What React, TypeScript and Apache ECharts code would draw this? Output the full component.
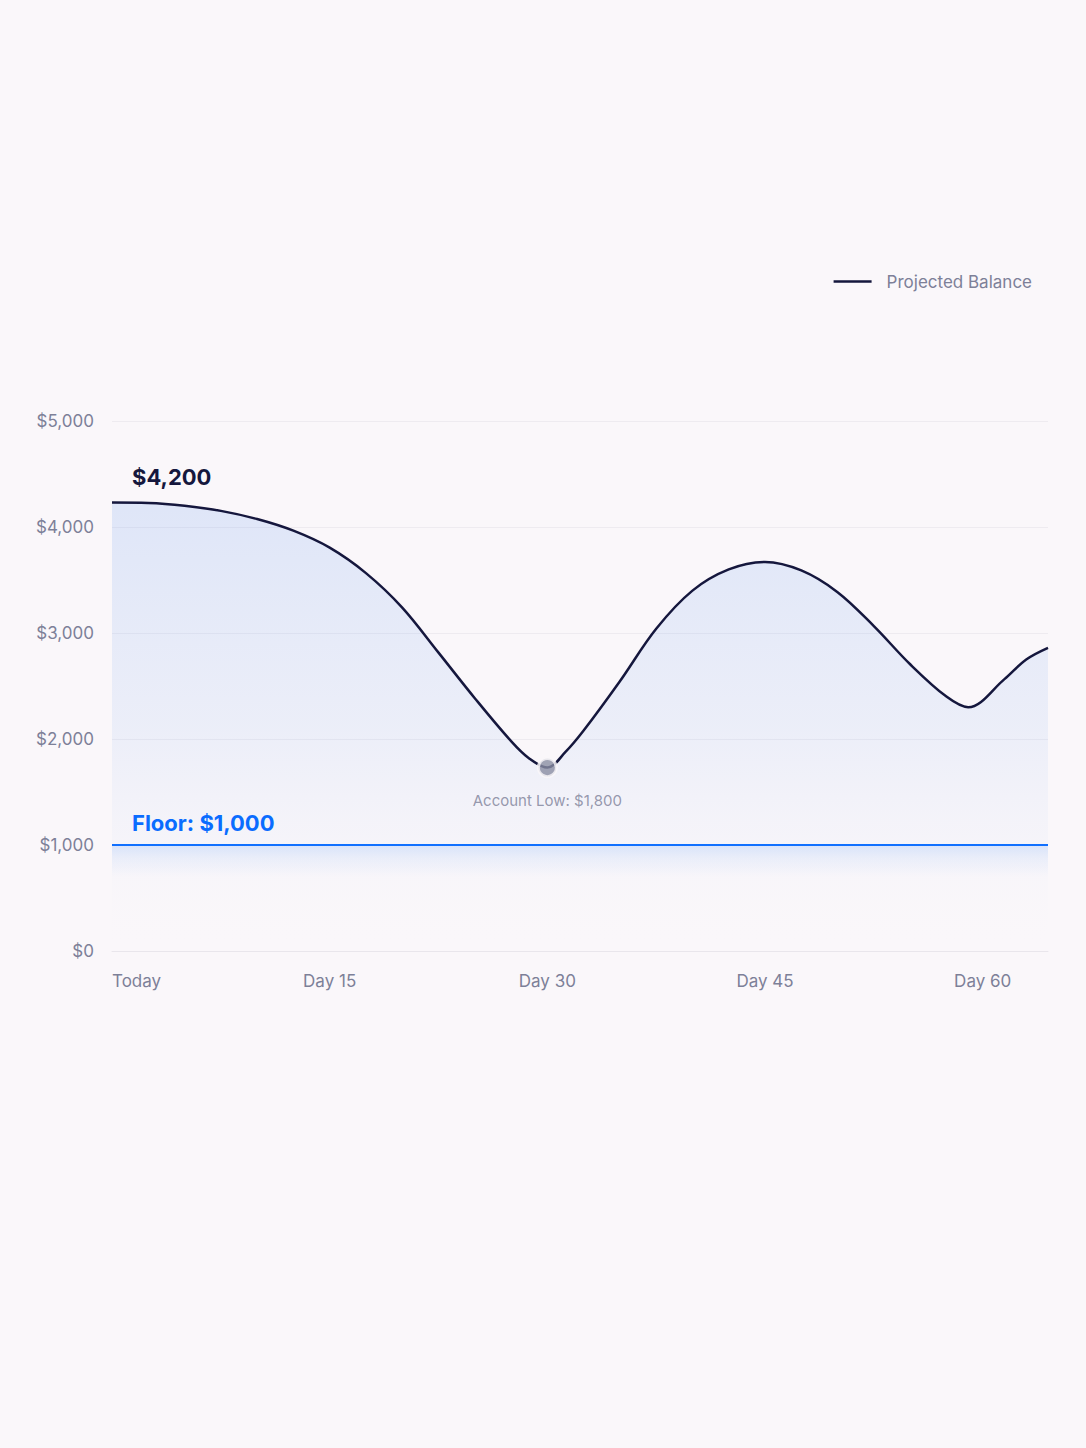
import React, { useEffect, useRef } from "react";
import * as echarts from "echarts";

const days = [
  0, 2.5, 5, 7.5, 10, 12.5, 15, 17.5, 20, 22.5, 25, 27.5, 28.75, 30,
  31.25, 32.5, 35, 37.5, 40, 42.5, 45,
  47.5, 50, 52.5, 55, 57.5, 59,
  61.5, 63, 64.5,
];
const balance = [
  4230, 4226, 4200, 4152, 4075, 3965, 3805, 3565, 3240, 2815, 2385, 1980, 1816, 1730,
  1878, 2080, 2545, 3040, 3400, 3600, 3670,
  3590, 3385, 3065, 2705, 2400, 2300,
  2565, 2750, 2860,
];
const xTicks = [0, 15, 30, 45, 60];
const xTickLabels = ["Today", "Day 15", "Day 30", "Day 45", "Day 60"];
const floorDays = [0, 64.5];
const floorValue = 1000;
const lowPoint = [30, 1730];
const startLabel = "$4,200";
const floorLabel = "Floor: $1,000";
const lowLabel = "Account Low: $1,800";
const seriesName = "Projected Balance";

const FONT = "Inter, 'Noto Sans', sans-serif";
const BG = "#FAF7FA";
const MUTED = "#7D8098";
const NAVY = "#15173D";
const BLUE = "#0A6CFF";

export default function App() {
  const ref = useRef<HTMLDivElement>(null);
  useEffect(() => {
    if (!ref.current) return;
    const chart = echarts.init(ref.current, undefined, { renderer: "svg" });
    const lineData = days.map((d, i) => [d, balance[i]]);
    const floorData = floorDays.map((d) => [d, floorValue]);
    chart.setOption({
      animation: false,
      backgroundColor: BG,
      textStyle: { fontFamily: FONT },
      grid: { left: 112, right: 38, top: 421, bottom: 497, containLabel: false },
      legend: {
        data: [seriesName],
        right: 49,
        top: 268,
        icon: "rect",
        itemWidth: 38,
        itemHeight: 2.5,
        textStyle: { color: MUTED, fontSize: 17, fontFamily: FONT, padding: [0, 0, 0, 10] },
      },
      xAxis: {
        type: "value",
        min: 0,
        max: 64.5,
        interval: 15,
        axisLine: { show: true, lineStyle: { color: "#E9E6EC", width: 1 } },
        axisTick: { show: false },
        splitLine: { show: false },
        axisLabel: {
          color: MUTED,
          fontSize: 17,
          fontFamily: FONT,
          margin: 21,
          alignMinLabel: "left",
          showMaxLabel: false,
          formatter: (v: number) => {
            const i = xTicks.indexOf(v);
            return i >= 0 ? xTickLabels[i] : "";
          },
        },
      },
      yAxis: {
        type: "value",
        min: 0,
        max: 5000,
        interval: 1000,
        axisLine: { show: false },
        axisTick: { show: false },
        splitLine: { lineStyle: { color: "#EEEBF0", width: 1 } },
        axisLabel: {
          color: MUTED,
          fontSize: 17,
          fontFamily: FONT,
          margin: 18,
          formatter: (v: number) => "$" + v.toLocaleString("en-US"),
        },
      },
      series: [
        {
          name: seriesName,
          type: "line",
          smooth: 0.35,
          symbol: "none",
          data: lineData,
          lineStyle: { color: NAVY, width: 2.5 },
          itemStyle: { color: NAVY },
          areaStyle: {
            color: new echarts.graphic.LinearGradient(0, 0, 0, 1, [
              { offset: 0, color: "rgba(120,165,240,0.30)" },
              { offset: 0.5, color: "rgba(135,175,238,0.18)" },
              { offset: 0.8, color: "rgba(160,190,238,0.05)" },
              { offset: 1, color: "rgba(250,247,250,0)" },
            ]),
          },
          z: 3,
        },
        {
          name: "floor",
          type: "line",
          symbol: "none",
          silent: true,
          data: floorData,
          lineStyle: { color: BLUE, width: 2 },
          itemStyle: { color: BLUE },
          areaStyle: {
            origin: "start",
            color: new echarts.graphic.LinearGradient(0, 0, 0, 1, [
              { offset: 0, color: "rgba(10,108,255,0.18)" },
              { offset: 0.12, color: "rgba(10,108,255,0.08)" },
              { offset: 0.3, color: "rgba(10,108,255,0)" },
              { offset: 1, color: "rgba(10,108,255,0)" },
            ]),
          },
          z: 2,
        },
        {
          name: "low",
          type: "scatter",
          data: [lowPoint],
          symbolSize: 18,
          itemStyle: { color: "#8A8DA3", borderColor: BG, borderWidth: 3 },
          label: {
            show: true,
            position: "bottom",
            distance: 15,
            formatter: lowLabel,
            color: MUTED,
            fontSize: 15,
            fontFamily: FONT,
          },
          z: 5,
        },
      ],
    });
    const p0 = chart.convertToPixel({ gridIndex: 0 }, [days[0], balance[0]]) as number[];
    const pf = chart.convertToPixel({ gridIndex: 0 }, [floorDays[0], floorValue]) as number[];
    chart.setOption({
      graphic: [
        {
          type: "text",
          x: p0[0] + 20,
          y: p0[1] - 26,
          style: {
            text: startLabel,
            fill: NAVY,
            fontSize: 22,
            fontWeight: 700,
            fontFamily: FONT,
            align: "left",
            verticalAlign: "middle",
          },
          z: 10,
        },
        {
          type: "text",
          x: pf[0] + 20,
          y: pf[1] - 22,
          style: {
            text: floorLabel,
            fill: BLUE,
            fontSize: 22,
            fontWeight: 700,
            fontFamily: FONT,
            align: "left",
            verticalAlign: "middle",
          },
          z: 10,
        },
      ],
    });
    return () => chart.dispose();
  }, []);
  return (
    <div
      ref={ref}
      style={{ position: "fixed", left: 0, top: 0, width: 1086, height: 1448 }}
    />
  );
}
